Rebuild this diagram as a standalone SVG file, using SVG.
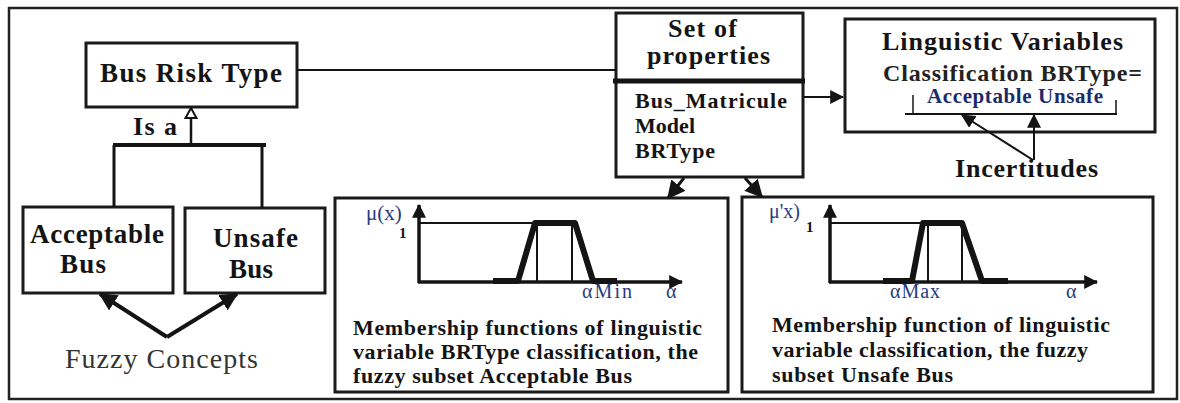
<svg xmlns="http://www.w3.org/2000/svg" width="1180" height="403" viewBox="0 0 1180 403">
<defs>
<style>
.box{fill:#fff;stroke:#1a1a1a;stroke-width:3}
.b{font-family:"Liberation Serif","Times New Roman",serif;font-weight:bold;fill:#141414}
.r{font-family:"Liberation Serif","Times New Roman",serif;fill:#2a3a80}
.ln{stroke:#141414;fill:none}
</style>
<marker id="ah" viewBox="0 0 12 12" refX="11" refY="6" markerWidth="14" markerHeight="14" markerUnits="userSpaceOnUse" orient="auto">
<path d="M0,0 L12,6 L0,12 z" fill="#141414"/>
</marker>
<marker id="ahb" viewBox="0 0 12 12" refX="11" refY="6" markerWidth="18" markerHeight="18" markerUnits="userSpaceOnUse" orient="auto">
<path d="M0,0 L12,6 L0,12 z" fill="#141414"/>
</marker>
</defs>
<rect width="1180" height="403" fill="#fff"/>
<rect x="9" y="8" width="1168" height="391" fill="none" stroke="#222" stroke-width="2.5"/>

<g id="bus-risk-type">
<rect class="box" x="86" y="43" width="211" height="64"/>
<text class="b" x="100" y="82" font-size="27" textLength="182">Bus Risk Type</text>
<text class="b" x="133" y="135" font-size="26" textLength="44">Is a</text>
</g>

<g id="acceptable-bus">
<rect class="box" x="23" y="207" width="150" height="86"/>
<text class="b" x="30" y="243" font-size="27" textLength="134">Acceptable</text>
<text class="b" x="60" y="273" font-size="27" textLength="46">Bus</text>
</g>

<g id="unsafe-bus">
<rect class="box" x="185" y="208" width="140" height="85"/>
<text class="b" x="213" y="247" font-size="27" textLength="85">Unsafe</text>
<text class="b" x="229" y="278" font-size="27" textLength="44">Bus</text>
</g>

<g id="fuzzy-concepts">
<text x="65" y="368" font-family="Liberation Serif, serif" font-size="28" fill="#333" textLength="193">Fuzzy Concepts</text>
</g>

<g id="set-of-properties">
<rect class="box" x="616" y="13" width="187" height="164"/>
<line class="ln" x1="613" y1="81" x2="805" y2="81" stroke-width="5"/>
<text class="b" x="668" y="37" font-size="26" textLength="69">Set of</text>
<text class="b" x="647" y="64" font-size="26" textLength="123">properties</text>
<text class="b" x="635" y="108" font-size="22" textLength="152">Bus_Matricule</text>
<text class="b" x="635" y="133" font-size="22" textLength="60">Model</text>
<text class="b" x="635" y="158" font-size="22" textLength="80">BRType</text>
</g>

<g id="linguistic-variables">
<rect class="box" x="845" y="19" width="310" height="113"/>
<text class="b" x="882" y="50" font-size="26" textLength="241">Linguistic Variables</text>
<text class="b" x="883" y="81" font-size="24" textLength="259" style="fill:#222">Classification BRType=</text>
<text class="b" x="927" y="103" font-size="21" textLength="176" style="fill:#1b2a6b">Acceptable Unsafe</text>
<line class="ln" x1="905" y1="114" x2="1117" y2="114" stroke-width="2"/>
<line class="ln" x1="913" y1="95" x2="913" y2="114" stroke-width="1.5"/>
<line class="ln" x1="1116" y1="100" x2="1116" y2="114" stroke-width="1.5"/>
</g>

<g id="incertitudes">
<text class="b" x="955" y="177" font-size="26" textLength="143">Incertitudes</text>
</g>

<g id="membership-acceptable">
<rect class="box" x="335" y="198" width="393" height="194"/>
<line class="ln" x1="419" y1="283" x2="419" y2="205" stroke-width="3.5" marker-end="url(#ah)"/>
<line class="ln" x1="418" y1="282" x2="682" y2="282" stroke-width="3.5" marker-end="url(#ah)"/>
<line class="ln" x1="419" y1="223" x2="536" y2="223" stroke-width="2"/>
<polyline class="ln" points="493,281 518,281 535,223 575,223 593,281 617,281" stroke-width="6" stroke-linejoin="round"/>
<line class="ln" x1="537" y1="223" x2="537" y2="282" stroke-width="2"/>
<line class="ln" x1="572" y1="223" x2="572" y2="282" stroke-width="2"/>
<text class="r" x="366" y="220" font-size="21">μ(x)</text>
<text class="b" x="399" y="238" font-size="15">1</text>
<text class="r" x="582" y="298" font-size="20" textLength="50">αMin</text>
<text class="r" x="666" y="298" font-size="20">α</text>
<text class="b" x="353" y="335" font-size="22" textLength="349">Membership functions of linguistic</text>
<text class="b" x="353" y="359" font-size="22" textLength="345">variable BRType classification, the</text>
<text class="b" x="353" y="383" font-size="22" textLength="279">fuzzy subset Acceptable Bus</text>
</g>

<g id="membership-unsafe">
<rect class="box" x="742" y="197" width="411" height="195"/>
<line class="ln" x1="830" y1="283" x2="830" y2="205" stroke-width="3.5" marker-end="url(#ah)"/>
<line class="ln" x1="829" y1="282" x2="1097" y2="282" stroke-width="3.5" marker-end="url(#ah)"/>
<line class="ln" x1="830" y1="223" x2="924" y2="223" stroke-width="2"/>
<polyline class="ln" points="883,281 912,281 923,223 962,223 982,281 1008,281" stroke-width="6" stroke-linejoin="round"/>
<line class="ln" x1="928" y1="223" x2="928" y2="282" stroke-width="2"/>
<line class="ln" x1="962" y1="223" x2="962" y2="282" stroke-width="2"/>
<text class="r" x="769" y="218" font-size="20">μ'x)</text>
<text class="b" x="806" y="232" font-size="15">1</text>
<text class="r" x="890" y="298" font-size="20" textLength="50">αMax</text>
<text class="r" x="1066" y="298" font-size="20">α</text>
<text class="b" x="772" y="332" font-size="22" textLength="338">Membership function of linguistic</text>
<text class="b" x="772" y="357" font-size="22" textLength="316">variable classification, the fuzzy</text>
<text class="b" x="772" y="382" font-size="22" textLength="181">subset Unsafe Bus</text>
</g>

<g id="connectors">
<line class="ln" x1="297" y1="70" x2="616" y2="70" stroke-width="2"/>
<line class="ln" x1="803" y1="97" x2="843" y2="97" stroke-width="2" marker-end="url(#ah)"/>
<line class="ln" x1="113" y1="145" x2="266" y2="145" stroke-width="4"/>
<line class="ln" x1="114" y1="145" x2="114" y2="207" stroke-width="3"/>
<line class="ln" x1="262" y1="145" x2="262" y2="208" stroke-width="3"/>
<line class="ln" x1="191" y1="145" x2="191" y2="117" stroke-width="2.5"/>
<polygon points="191,108 185.5,118 196.5,118" fill="#fff" stroke="#141414" stroke-width="2"/>
<line class="ln" x1="167" y1="337" x2="100" y2="294" stroke-width="4" marker-end="url(#ahb)"/>
<line class="ln" x1="167" y1="337" x2="237" y2="294" stroke-width="4" marker-end="url(#ahb)"/>
<line class="ln" x1="684" y1="178" x2="668" y2="198" stroke-width="3" marker-end="url(#ahb)"/>
<line class="ln" x1="745" y1="178" x2="762" y2="197" stroke-width="3" marker-end="url(#ahb)"/>
<line class="ln" x1="1033" y1="160" x2="962" y2="115" stroke-width="2" marker-end="url(#ah)"/>
<line class="ln" x1="1034" y1="160" x2="1034" y2="115" stroke-width="2" marker-end="url(#ah)"/>
</g>
</svg>
